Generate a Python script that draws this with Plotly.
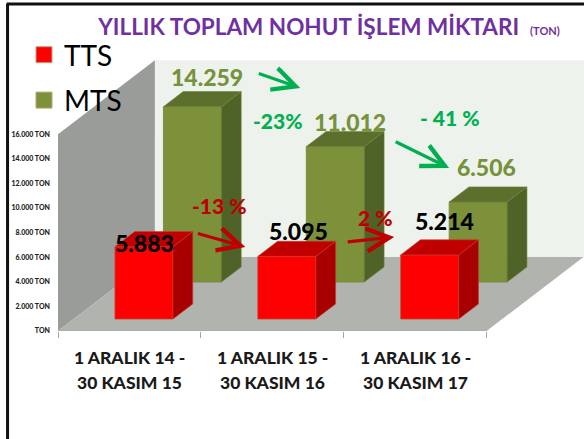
import plotly.graph_objects as go

categories = [["1 ARALIK 14 -", "30 KASIM 15"], ["1 ARALIK 15 -", "30 KASIM 16"], ["1 ARALIK 16 -", "30 KASIM 17"]]
tts = [5883, 5095, 5214]
mts = [14259, 11012, 6506]
y_ticks = [0, 2000, 4000, 6000, 8000, 10000, 12000, 14000, 16000]
y_labels = ["TON", "2.000 TON", "4.000 TON", "6.000 TON", "8.000 TON", "10.000 TON", "12.000 TON", "14.000 TON", "16.000 TON"]
changes_mts = ["-23%", "- 41 %"]
changes_tts = ["-13 %", "2 %"]

W, H = 584, 439
L, B = 57.5, 108
CAT_PX, VAL_PX = 143.0, 0.0123
DX, DY = 97 / CAT_PX, 74 / VAL_PX   # oblique depth offset, in axis units
HALF = 0.203
FONT = "Lato"
HEAVY = 900

def px(x, y):
    return (x - L) / CAT_PX, (H - B - y) / VAL_PX

def paper(x, y):
    return (x - L) / (W - L), (H - B - y) / (H - B)

def proj(u, v, d):
    return u + d * DX, v + d * DY

def poly(points):
    xs, ys = zip(*[proj(*p) for p in points])
    return list(xs) + [xs[0]], list(ys) + [ys[0]]

def path(points):
    xs, ys = poly(points)
    return "M" + " L".join(f"{a},{b}" for a, b in zip(xs[:-1], ys[:-1])) + " Z"

fig = go.Figure()

def face(points, color, edge):
    xs, ys = poly(points)
    fig.add_trace(go.Scatter(x=xs, y=ys, mode="lines", fill="toself", fillcolor=color,
                             line=dict(color=edge, width=0.6), showlegend=False, hoverinfo="skip"))

def bar3d(values, d0, d1, front, side, top, edge):
    centers = [i + 0.5 for i in range(len(values))]
    x0, base = proj(0, 0, d0)
    fig.add_trace(go.Bar(x=[c + x0 - 0.008 for c in centers], y=values, base=base, width=2 * HALF,
                         marker=dict(color=front, line=dict(color=edge, width=0.8)),
                         showlegend=False))
    for c, v in zip(centers, values):
        a, b = c - HALF - 0.008, c + HALF - 0.008
        face([(b, 0, d0), (b, 0, d1), (b, v, d1), (b, v, d0)], side, edge)
        face([(a, v, d0), (b, v, d0), (b, v, d1), (a, v, d1)], top, edge)

bar3d(mts, 0.662, 0.866, "#7C9139", "#4F6228", "#5C6F2C", "#71853A")
bar3d(tts, 0.162, 0.366, "#FF0000", "#A80000", "#C00000", "#C8402F")

# axis baseline
fig.add_trace(go.Scatter(x=[0, 3], y=[0, 0], mode="lines", line=dict(color="#A6A6A6", width=1),
                         cliponaxis=False, showlegend=False, hoverinfo="skip"))

# legend entries
for name, color in (("TTS", "#FF0000"), ("MTS", "#7C9139")):
    fig.add_trace(go.Scatter(x=[None], y=[None], mode="markers", name=name, legendgroup=name,
                             marker=dict(symbol="square", size=16, color=color,
                                         line=dict(color="#B5A878", width=1))))

shapes = [
    dict(type="path", path=path([(0, 0, 0), (0, 0, 1), (0, 16000, 1), (0, 16000, 0)]),
         fillcolor="#999C98", line_width=0, layer="below"),
    dict(type="path", path=path([(0, 0, 1), (4.01, 0, 1), (4.01, 16000, 1), (0, 16000, 1)]),
         fillcolor="#EEF2EC", line_width=0, layer="below"),
    dict(type="path", path=path([(0, 0, 0), (3, 0, 0), (3, 0, 1), (0, 0, 1)]),
         fillcolor="#B1B3AF", line_width=0, layer="below"),
]
for (x0, y0), (x1, y1) in (((7, 4), (7, H)), ((6, 4), (W, 4))):
    a, b = paper(x0, y0)
    c, d = paper(x1, y1)
    shapes.append(dict(type="line", xref="paper", yref="paper", x0=a, y0=b, x1=c, y1=d,
                       line=dict(color="#111111", width=3)))

annotations = []

def label(text, x, y, color, size=23):
    ax, ay = paper(x, y)
    annotations.append(dict(x=ax, y=ay, xref="paper", yref="paper", text=text, showarrow=False,
                            font=dict(family=FONT, size=size, color=color, weight=HEAVY),
                            xanchor="center", yanchor="middle"))

def arrow(x0, y0, x1, y1, color):
    ax, ay = px(x0, y0)
    hx, hy = px(x1, y1)
    annotations.append(dict(x=hx, y=hy, ax=ax, ay=ay, axref="x", ayref="y", text="",
                            showarrow=True, arrowhead=5, arrowsize=1.4, arrowwidth=3.2,
                            arrowcolor=color))

def fmt(v):
    return f"{v:,}".replace(",", ".")

OLIVE, GREEN, RED = "#76923C", "#00B050", "#C00000"
for v, (x, y) in zip(mts, ((207, 77), (350, 122), (486, 167))):
    label(fmt(v), x, y, OLIVE, 23)
for v, (x, y) in zip(tts, ((144, 243), (298, 231), (444, 221))):
    label(fmt(v), x, y, "#000000", 23)
for t, (x, y) in zip(changes_mts, ((278, 121), (450, 117))):
    label(t, x, y, GREEN, 21)
for t, (x, y) in zip(changes_tts, ((219, 206), (375, 217))):
    label(t, x, y, RED, 21)
arrow(257, 73, 300, 88, GREEN)
arrow(394, 141, 449, 168, GREEN)
arrow(196, 233, 245, 247, RED)
arrow(346, 242, 394, 237, RED)

for i, (line1, line2) in enumerate(categories):
    cx = L + CAT_PX * (i + 0.5)
    label(line1, cx, 357, "#1A1A1A", 17.5)
    label(line2, cx, 382, "#1A1A1A", 17.5)

fig.update_layout(
    width=W, height=H, autosize=False,
    margin=dict(l=L, r=0, t=0, b=B, pad=0, autoexpand=False),
    paper_bgcolor="#FFFFFF", plot_bgcolor="#FFFFFF",
    barmode="overlay",
    title=dict(text='<b>YILLIK TOPLAM NOHUT İŞLEM MİKTARI  <span style="font-size:11px">(TON)</span></b>',
               font=dict(family=FONT, size=22.5, color="#7030A0"),
               x=329 / W, xanchor="center", xref="container",
               y=1 - 27 / H, yanchor="middle", yref="container"),
    legend=dict(xref="container", yref="container", x=24 / W, y=1 - 30 / H, xanchor="left", yanchor="top",
                font=dict(family=FONT, size=28, color="#000000"), bgcolor="rgba(0,0,0,0)",
                tracegroupgap=6, itemwidth=30),
    xaxis=dict(range=[0, (W - L) / CAT_PX], tickvals=[0, 1, 2, 3], showticklabels=False,
               ticks="outside", ticklen=6, tickcolor="#A6A6A6", showgrid=False, zeroline=False),
    yaxis=dict(range=[0, (H - B) / VAL_PX], tickvals=y_ticks, ticktext=y_labels,
               tickfont=dict(family=FONT, size=7, color="#222222", weight=HEAVY), ticks="", showgrid=False,
               zeroline=False, ticklabelstandoff=7),
    shapes=shapes, annotations=annotations, hovermode=False,
)
fig.write_html("out.html", config={"displayModeBar": False},
               post_script="document.body.style.margin='0';document.body.style.overflow='hidden';")
